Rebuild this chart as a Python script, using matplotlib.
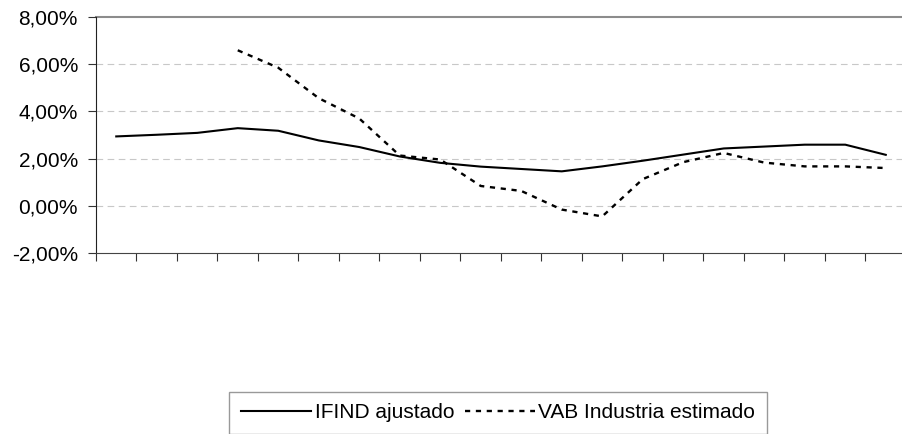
import matplotlib.pyplot as plt
from matplotlib.ticker import FuncFormatter

plt.rcParams['font.family'] = ['Liberation Sans', 'DejaVu Sans']

# Datos (20 periodos)
periodos = list(range(20))
ifind_ajustado = [2.94, 3.01, 3.09, 3.29, 3.18, 2.77, 2.49, 2.09, 1.82, 1.66,
                  1.56, 1.46, 1.67, 1.91, 2.17, 2.43, 2.51, 2.59, 2.59, 2.16]
vab_industria = [None, None, None, 6.59, 5.85, 4.56, 3.70, 2.13, 1.96, 0.84,
                 0.63, -0.16, -0.45, 1.13, 1.85, 2.24, 1.83, 1.67, 1.67, 1.60]
y_ticks = [-2, 0, 2, 4, 6, 8]

fig = plt.figure(figsize=(9.03, 4.34), dpi=100)
ax = fig.add_axes([96 / 903, 181 / 434, 810 / 903, 236 / 434])

x_vab = [p for p, v in zip(periodos, vab_industria) if v is not None]
y_vab = [v for v in vab_industria if v is not None]

ax.plot(periodos, ifind_ajustado, color='black', lw=1.5, label='IFIND ajustado')
ax.plot(x_vab, y_vab, color='black', lw=1.7, linestyle=(0, (2.2, 2.4)),
        label='VAB Industria estimado')

ax.set_xlim(-0.5, 19.5)
ax.set_ylim(-2, 8)
ax.set_yticks(y_ticks)
ax.yaxis.set_major_formatter(FuncFormatter(lambda v, p: f'{v:.2f}%'.replace('.', ',')))
ax.set_xticks([i - 0.5 for i in range(21)])
ax.set_xticklabels([])

for v in y_ticks[1:-1]:
    ax.axhline(v, color='#c8c8c8', lw=0.8, dashes=(6, 4), zorder=0)
ax.axhline(8, color='#8c8c8c', lw=1.5, zorder=0, clip_on=False)

for s in ['top', 'right']:
    ax.spines[s].set_visible(False)
ax.spines['left'].set_color('#222222')
ax.spines['bottom'].set_color('#444444')
ax.tick_params(axis='both', direction='out', length=6, color='#333333',
               labelsize=15, pad=7)

fig.legend(loc='upper center', bbox_to_anchor=(498 / 903, 1 - 392 / 434), ncol=2,
           fontsize=15, frameon=True, fancybox=False, edgecolor='#999999',
           framealpha=1, handlelength=3.4, handletextpad=0.15, columnspacing=0.5,
           borderpad=0.55, borderaxespad=0)

fig.savefig('out.png', dpi=100)
